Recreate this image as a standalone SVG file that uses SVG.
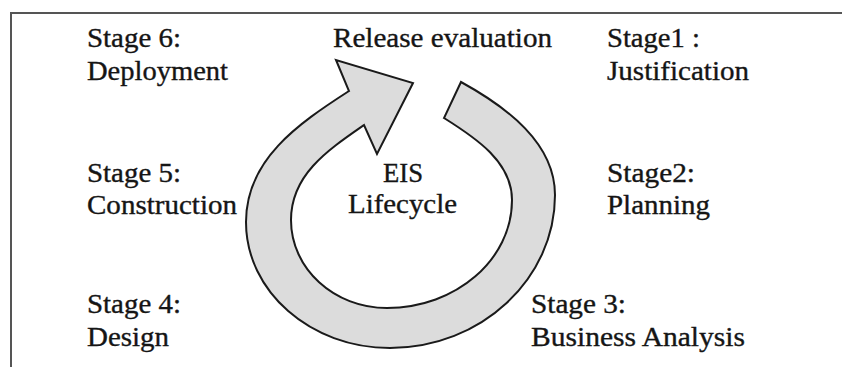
<svg xmlns="http://www.w3.org/2000/svg" width="842" height="367" viewBox="0 0 842 367">
<style>
text{font-family:"Liberation Serif","Times New Roman",serif;font-size:27px;fill:#151515;stroke:#151515;stroke-width:0.35}
.frame{fill:none;stroke:#555;stroke-width:2}
.ring{fill:#dcdcdc;stroke:#1a1a1a;stroke-width:2;stroke-linejoin:miter}
</style>
<rect width="842" height="367" fill="#fff"/>
<rect class="frame" x="11" y="13" width="845" height="370"/>
<g id="connectors">
<path id="cycle-arrow" class="ring" d="M461,82 C506.5,107 555,143 555,195 C555,279 481,348 390,348 C310.5,348 246,291.5 246,222 C246,160 297,124.5 349,91 L336,60 L413,83 L377,154 L364,125 C327,150.6 291,175 291,220 C291,268.6 334,308 387,308 C456,308 512,259.6 512,200 C512,162 476,138 444,118 Z"/>
</g>
<g id="center"><text x="383" y="182" textLength="40" lengthAdjust="spacingAndGlyphs">EIS</text><text x="348" y="213" textLength="109" lengthAdjust="spacingAndGlyphs">Lifecycle</text></g>
<g id="release"><text x="333" y="47" textLength="219" lengthAdjust="spacingAndGlyphs">Release evaluation</text></g>
<g id="stage1"><text x="607" y="47" textLength="93" lengthAdjust="spacingAndGlyphs">Stage1 :</text><text x="607" y="80" textLength="142" lengthAdjust="spacingAndGlyphs">Justification</text></g>
<g id="stage2"><text x="607" y="182" textLength="88" lengthAdjust="spacingAndGlyphs">Stage2:</text><text x="607" y="214" textLength="103" lengthAdjust="spacingAndGlyphs">Planning</text></g>
<g id="stage3"><text x="531" y="313" textLength="95" lengthAdjust="spacingAndGlyphs">Stage 3:</text><text x="531" y="346" textLength="214" lengthAdjust="spacingAndGlyphs">Business Analysis</text></g>
<g id="stage4"><text x="87" y="313" textLength="94" lengthAdjust="spacingAndGlyphs">Stage 4:</text><text x="87" y="346" textLength="82" lengthAdjust="spacingAndGlyphs">Design</text></g>
<g id="stage5"><text x="87" y="182" textLength="94" lengthAdjust="spacingAndGlyphs">Stage 5:</text><text x="87" y="214" textLength="150" lengthAdjust="spacingAndGlyphs">Construction</text></g>
<g id="stage6"><text x="87" y="47" textLength="94" lengthAdjust="spacingAndGlyphs">Stage 6:</text><text x="87" y="80" textLength="141" lengthAdjust="spacingAndGlyphs">Deployment</text></g>
</svg>
